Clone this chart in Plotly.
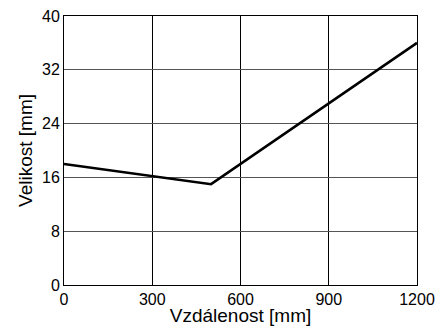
import plotly.graph_objects as go

distance_mm = [0, 500, 1200]
size_mm = [18, 15, 36]
x_ticks = [0, 300, 600, 900, 1200]
y_ticks = [0, 8, 16, 24, 32, 40]

fig = go.Figure()
fig.add_trace(go.Scatter(x=distance_mm, y=size_mm, mode="lines",
                         line=dict(color="black", width=2.5), showlegend=False))

font = dict(family="Liberation Sans, Arial, sans-serif", size=16, color="black")
# page body has an 8px default margin: the div starts at (8, 8)
fig.update_layout(
    width=435, height=318,
    margin=dict(l=56, r=26, t=8, b=41, autoexpand=False),
    paper_bgcolor="white", plot_bgcolor="white",
    font=font,
)
fig.update_xaxes(range=[0, 1200], tickvals=x_ticks, showgrid=True, gridcolor="black", gridwidth=1,
                 showline=True, linecolor="black", linewidth=1, mirror=True, zeroline=False,
                 ticks="", ticklabeloverflow="allow",
                 title=dict(text="Vzdálenost [mm]", standoff=0), tickfont=font)
fig.update_yaxes(range=[0, 40], tickvals=y_ticks, showgrid=True, gridcolor="#555555", gridwidth=1,
                 showline=True, linecolor="black", linewidth=1, mirror=True, zeroline=False,
                 ticks="", ticklabeloverflow="allow",
                 title=dict(text="Velikost [mm]", standoff=4), tickfont=font)
fig.write_html("out.html")
